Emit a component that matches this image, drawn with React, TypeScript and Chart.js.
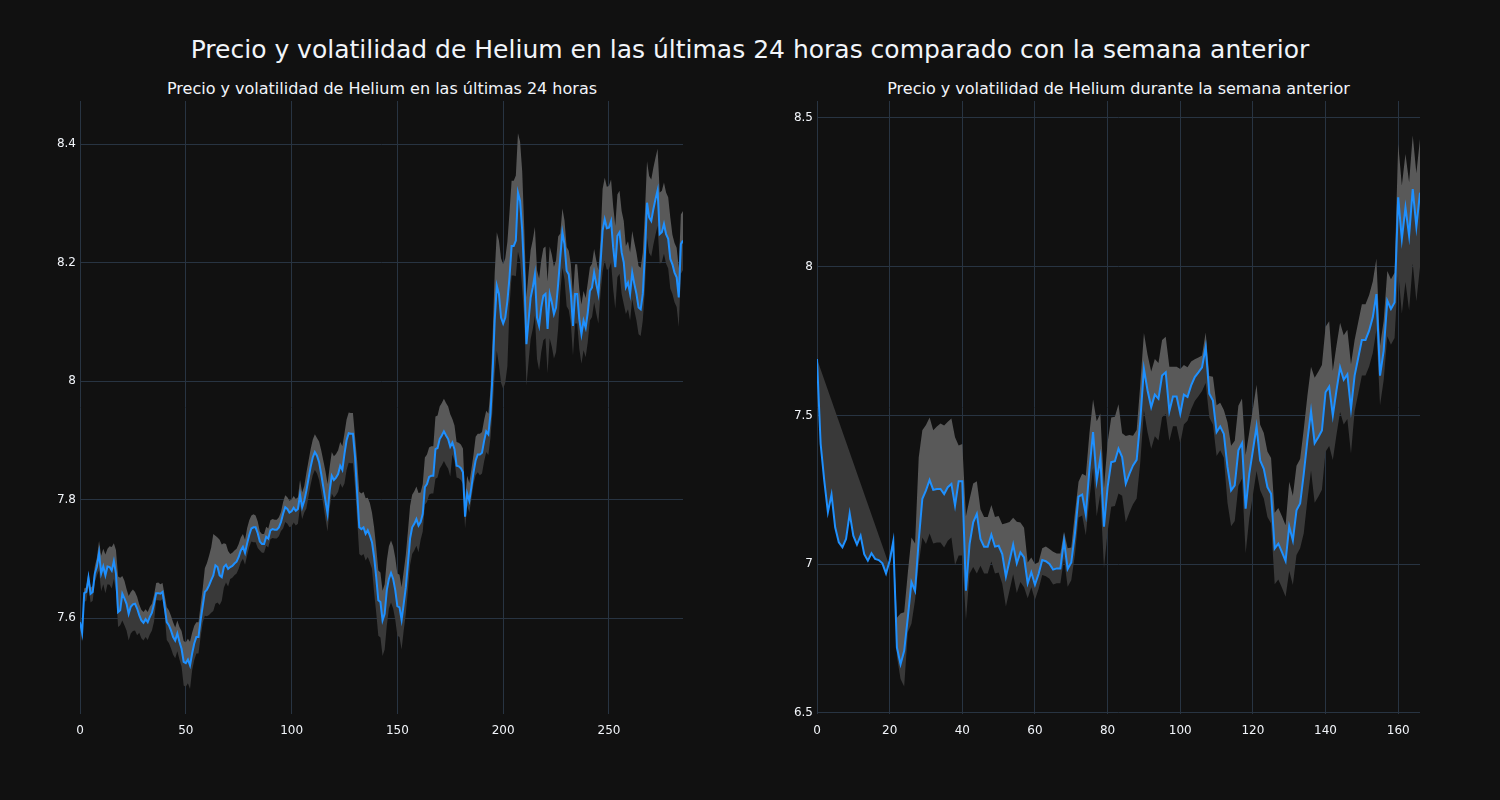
import React, { useEffect, useRef } from "react";
import { Chart, registerables } from "chart.js";

Chart.register(...registerables);

const mainTitle = "Precio y volatilidad de Helium en las últimas 24 horas comparado con la semana anterior";
const leftTitle = "Precio y volatilidad de Helium en las últimas 24 horas";
const rightTitle = "Precio y volatilidad de Helium durante la semana anterior";

// Last 24 hours (5-minute steps)
const leftPrice = [
  7.593, 7.575, 7.642, 7.644, 7.668, 7.641, 7.644, 7.675, 7.687, 7.71,
  7.675, 7.687, 7.672, 7.687, 7.686, 7.68, 7.696, 7.675, 7.61, 7.613,
  7.641, 7.633, 7.624, 7.607, 7.619, 7.623, 7.624, 7.616, 7.605, 7.596,
  7.592, 7.598, 7.593, 7.602, 7.609, 7.624, 7.642, 7.642, 7.641, 7.644,
  7.619, 7.593, 7.588, 7.579, 7.568, 7.562, 7.574, 7.56, 7.548, 7.526,
  7.524, 7.53, 7.52, 7.54, 7.557, 7.568, 7.568, 7.596, 7.62, 7.644,
  7.648, 7.655, 7.664, 7.672, 7.689, 7.686, 7.672, 7.669, 7.686, 7.69,
  7.683, 7.686, 7.688, 7.692, 7.695, 7.703, 7.714, 7.72, 7.71, 7.726,
  7.74, 7.751, 7.753, 7.753, 7.743, 7.729, 7.725, 7.725, 7.737, 7.734,
  7.748, 7.75, 7.749, 7.749, 7.753, 7.762, 7.776, 7.787, 7.784, 7.778,
  7.78, 7.786, 7.781, 7.784, 7.808, 7.787, 7.798, 7.815, 7.835, 7.855,
  7.871, 7.88, 7.874, 7.863, 7.843, 7.821, 7.798, 7.776, 7.815, 7.84,
  7.833, 7.837, 7.843, 7.857, 7.85, 7.877, 7.9, 7.912, 7.911, 7.911,
  7.871, 7.81, 7.753, 7.75, 7.753, 7.742, 7.748, 7.739, 7.728, 7.703,
  7.669, 7.63, 7.627, 7.596, 7.607, 7.647, 7.666, 7.676, 7.666, 7.647,
  7.62, 7.618, 7.597, 7.624, 7.652, 7.692, 7.734, 7.753, 7.759, 7.767,
  7.756, 7.762, 7.776, 7.821, 7.826, 7.838, 7.84, 7.84, 7.885, 7.887,
  7.902, 7.908, 7.915, 7.908, 7.902, 7.889, 7.896, 7.885, 7.857, 7.856,
  7.853, 7.846, 7.771, 7.81, 7.798, 7.821, 7.846, 7.866, 7.876, 7.876,
  7.879, 7.899, 7.915, 7.91, 7.944, 8.012, 8.102, 8.161, 8.147, 8.107,
  8.097, 8.107, 8.135, 8.175, 8.228, 8.228, 8.237, 8.318, 8.304, 8.254,
  8.175, 8.062, 8.102, 8.141, 8.158, 8.18, 8.107, 8.093, 8.124, 8.144,
  8.147, 8.088, 8.147, 8.133, 8.113, 8.124, 8.164, 8.209, 8.251, 8.231,
  8.186, 8.18, 8.147, 8.093, 8.147, 8.147, 8.104, 8.079, 8.102, 8.09,
  8.116, 8.152, 8.158, 8.183, 8.164, 8.147, 8.197, 8.254, 8.273, 8.258,
  8.259, 8.27, 8.225, 8.192, 8.245, 8.251, 8.217, 8.2, 8.158, 8.166,
  8.147, 8.183, 8.164, 8.147, 8.124, 8.121, 8.147, 8.214, 8.301, 8.276,
  8.27, 8.29, 8.307, 8.322, 8.248, 8.251, 8.265, 8.248, 8.24, 8.206,
  8.197, 8.183, 8.175, 8.141, 8.231, 8.237,
];

// Volatility band width above / below the price (24 h)
const leftVolUp = [
  0.005, 0.005, 0.008, 0.008, 0.01, 0.01, 0.01, 0.012, 0.015, 0.02,
  0.03, 0.03, 0.035, 0.03, 0.035, 0.04, 0.03, 0.04, 0.06, 0.055,
  0.03, 0.03, 0.025, 0.03, 0.025, 0.025, 0.02, 0.02, 0.018, 0.018,
  0.018, 0.017, 0.017, 0.017, 0.015, 0.015, 0.017, 0.018, 0.016, 0.015,
  0.02, 0.025, 0.025, 0.025, 0.025, 0.022, 0.022, 0.025, 0.03, 0.035,
  0.035, 0.035, 0.04, 0.035, 0.03, 0.025, 0.025, 0.025, 0.03, 0.04,
  0.045, 0.05, 0.055, 0.07, 0.05, 0.05, 0.06, 0.055, 0.04, 0.035,
  0.03, 0.022, 0.022, 0.022, 0.022, 0.022, 0.022, 0.022, 0.022, 0.026,
  0.025, 0.022, 0.022, 0.02, 0.02, 0.017, 0.017, 0.017, 0.017, 0.017,
  0.017, 0.017, 0.017, 0.017, 0.017, 0.017, 0.02, 0.02, 0.02, 0.02,
  0.02, 0.02, 0.02, 0.02, 0.025, 0.025, 0.025, 0.03, 0.03, 0.03,
  0.03, 0.03, 0.03, 0.035, 0.04, 0.045, 0.05, 0.05, 0.04, 0.04,
  0.04, 0.04, 0.04, 0.04, 0.04, 0.035, 0.035, 0.035, 0.035, 0.035,
  0.035, 0.055, 0.06, 0.06, 0.06, 0.06, 0.055, 0.055, 0.05, 0.05,
  0.05, 0.05, 0.05, 0.05, 0.05, 0.05, 0.055, 0.055, 0.055, 0.055,
  0.055, 0.055, 0.055, 0.055, 0.055, 0.055, 0.055, 0.055, 0.055, 0.055,
  0.055, 0.05, 0.05, 0.05, 0.05, 0.05, 0.05, 0.05, 0.055, 0.055,
  0.055, 0.055, 0.055, 0.055, 0.055, 0.055, 0.04, 0.04, 0.04, 0.04,
  0.04, 0.04, 0.03, 0.03, 0.03, 0.03, 0.03, 0.04, 0.035, 0.035,
  0.035, 0.035, 0.035, 0.035, 0.04, 0.06, 0.08, 0.09, 0.09, 0.1,
  0.1, 0.1, 0.1, 0.11, 0.11, 0.11, 0.11, 0.1, 0.1, 0.1,
  0.08, 0.08, 0.08, 0.08, 0.08, 0.08, 0.08, 0.08, 0.08, 0.08,
  0.08, 0.08, 0.08, 0.08, 0.08, 0.08, 0.08, 0.04, 0.04, 0.04,
  0.04, 0.04, 0.05, 0.05, 0.05, 0.05, 0.05, 0.05, 0.05, 0.05,
  0.05, 0.04, 0.04, 0.04, 0.04, 0.04, 0.04, 0.07, 0.07, 0.07,
  0.07, 0.07, 0.07, 0.07, 0.07, 0.07, 0.07, 0.07, 0.07, 0.07,
  0.07, 0.07, 0.07, 0.07, 0.07, 0.07, 0.07, 0.07, 0.07, 0.07,
  0.07, 0.07, 0.07, 0.07, 0.07, 0.07, 0.07, 0.07, 0.07, 0.07,
  0.05, 0.05, 0.05, 0.05, 0.05, 0.05,
];

const leftVolDown = [
  0.015, 0.015, 0.015, 0.015, 0.015, 0.015, 0.015, 0.015, 0.015, 0.03,
  0.03, 0.03, 0.03, 0.03, 0.03, 0.03, 0.03, 0.03, 0.025, 0.025,
  0.045, 0.045, 0.045, 0.045, 0.045, 0.045, 0.045, 0.045, 0.03, 0.03,
  0.03, 0.03, 0.03, 0.03, 0.03, 0.03, 0.012, 0.012, 0.012, 0.012,
  0.012, 0.03, 0.03, 0.03, 0.03, 0.03, 0.03, 0.03, 0.03, 0.04,
  0.04, 0.04, 0.04, 0.028, 0.028, 0.028, 0.028, 0.028, 0.028, 0.04,
  0.045, 0.05, 0.055, 0.06, 0.065, 0.06, 0.05, 0.04, 0.035, 0.03,
  0.03, 0.02, 0.02, 0.02, 0.02, 0.02, 0.02, 0.02, 0.02, 0.02,
  0.02, 0.022, 0.025, 0.025, 0.025, 0.015, 0.015, 0.015, 0.015, 0.015,
  0.015, 0.015, 0.015, 0.015, 0.015, 0.015, 0.025, 0.025, 0.025, 0.025,
  0.025, 0.025, 0.025, 0.025, 0.02, 0.02, 0.02, 0.03, 0.03, 0.03,
  0.03, 0.03, 0.03, 0.03, 0.03, 0.03, 0.03, 0.03, 0.03, 0.03,
  0.03, 0.03, 0.03, 0.03, 0.03, 0.05, 0.05, 0.05, 0.05, 0.05,
  0.05, 0.045, 0.045, 0.045, 0.045, 0.045, 0.045, 0.045, 0.045, 0.06,
  0.06, 0.06, 0.06, 0.06, 0.06, 0.06, 0.05, 0.05, 0.05, 0.05,
  0.05, 0.05, 0.05, 0.045, 0.045, 0.045, 0.045, 0.045, 0.045, 0.045,
  0.045, 0.03, 0.03, 0.03, 0.03, 0.03, 0.03, 0.03, 0.05, 0.05,
  0.05, 0.05, 0.05, 0.05, 0.05, 0.05, 0.02, 0.02, 0.02, 0.02,
  0.02, 0.02, 0.02, 0.02, 0.02, 0.02, 0.02, 0.025, 0.03, 0.035,
  0.035, 0.035, 0.035, 0.035, 0.04, 0.06, 0.09, 0.11, 0.12, 0.11,
  0.11, 0.11, 0.11, 0.05, 0.05, 0.05, 0.06, 0.1, 0.1, 0.1,
  0.07, 0.07, 0.07, 0.07, 0.07, 0.07, 0.07, 0.075, 0.075, 0.075,
  0.075, 0.075, 0.075, 0.075, 0.075, 0.075, 0.075, 0.06, 0.06, 0.06,
  0.06, 0.06, 0.05, 0.05, 0.05, 0.05, 0.05, 0.05, 0.05, 0.05,
  0.05, 0.05, 0.05, 0.05, 0.05, 0.05, 0.05, 0.07, 0.07, 0.07,
  0.07, 0.07, 0.07, 0.07, 0.07, 0.07, 0.07, 0.07, 0.045, 0.045,
  0.045, 0.045, 0.045, 0.045, 0.045, 0.045, 0.045, 0.06, 0.06, 0.06,
  0.06, 0.06, 0.06, 0.06, 0.05, 0.05, 0.05, 0.05, 0.05, 0.05,
  0.05, 0.05, 0.05, 0.05, 0.05, 0.05,
];

// Previous week (hourly steps)
const rightPrice = [
  7.69, 7.405, 7.281, 7.175, 7.234, 7.124, 7.074, 7.057, 7.085, 7.171,
  7.096, 7.066, 7.096, 7.034, 7.012, 7.037, 7.018, 7.014, 7.003, 6.969,
  7.012, 7.077, 6.72, 6.664, 6.709, 6.821, 6.94, 6.91, 7.079, 7.22,
  7.248, 7.283, 7.25, 7.253, 7.253, 7.236, 7.259, 7.27, 7.197, 7.279,
  7.279, 6.911, 7.068, 7.141, 7.169, 7.085, 7.059, 7.059, 7.099, 7.059,
  7.062, 7.034, 6.958, 7.012, 7.066, 7.003, 7.04, 7.023, 6.936, 6.973,
  6.931, 6.967, 7.014, 7.01, 7.001, 6.982, 6.986, 6.986, 7.079, 6.984,
  7.006, 7.102, 7.227, 7.234, 7.167, 7.32, 7.444, 7.281, 7.357, 7.126,
  7.259, 7.343, 7.346, 7.388, 7.36, 7.271, 7.304, 7.332, 7.351, 7.483,
  7.657, 7.584, 7.528, 7.57, 7.556, 7.634, 7.645, 7.514, 7.564, 7.564,
  7.506, 7.57, 7.562, 7.601, 7.629, 7.645, 7.662, 7.729, 7.573, 7.55,
  7.444, 7.463, 7.438, 7.327, 7.248, 7.265, 7.383, 7.407, 7.187, 7.304,
  7.383, 7.463, 7.349, 7.321, 7.259, 7.237, 7.053, 7.069, 7.041, 7.011,
  7.127, 7.08, 7.181, 7.204, 7.304, 7.416, 7.514, 7.407, 7.427, 7.45,
  7.578, 7.597, 7.5, 7.584, 7.662, 7.62, 7.638, 7.522, 7.634, 7.694,
  7.754, 7.754, 7.785, 7.83, 7.908, 7.634, 7.718, 7.886, 7.858, 7.88,
  8.233, 8.093, 8.199, 8.104, 8.261, 8.134, 8.249,
];

const rightVolUp = [
  null, null, null, null, null, null, null, null, null, null,
  null, null, null, null, null, null, null, null, null, null,
  0.01, 0.01, 0.1, 0.17, 0.13, 0.15, 0.15, 0.16, 0.28, 0.23,
  0.22, 0.21, 0.2, 0.21, 0.22, 0.23, 0.22, 0.22, 0.23, 0.12,
  0.125, 0.25, 0.15, 0.13, 0.11, 0.1, 0.1, 0.1, 0.1, 0.1,
  0.1, 0.1, 0.18, 0.13, 0.09, 0.14, 0.1, 0.1, 0.07, 0.05,
  0.07, 0.04, 0.04, 0.05, 0.05, 0.06, 0.05, 0.05, 0.03, 0.07,
  0.05, 0.07, 0.05, 0.07, 0.13, 0.12, 0.11, 0.2, 0.15, 0.13,
  0.15, 0.15, 0.15, 0.15, 0.08, 0.16, 0.13, 0.1, 0.1, 0.12,
  0.12, 0.12, 0.12, 0.12, 0.12, 0.12, 0.12, 0.15, 0.1, 0.1,
  0.15, 0.1, 0.1, 0.08, 0.06, 0.05, 0.04, 0.05, 0.06, 0.08,
  0.09, 0.08, 0.08, 0.15, 0.15, 0.15, 0.15, 0.15, 0.18, 0.14,
  0.14, 0.14, 0.12, 0.12, 0.12, 0.12, 0.12, 0.12, 0.12, 0.12,
  0.15, 0.15, 0.15, 0.15, 0.15, 0.15, 0.15, 0.22, 0.22, 0.22,
  0.22, 0.22, 0.15, 0.15, 0.15, 0.15, 0.15, 0.15, 0.12, 0.12,
  0.12, 0.12, 0.12, 0.12, 0.12, 0.1, 0.1, 0.1, 0.1, 0.1,
  0.18, 0.18, 0.18, 0.18, 0.18, 0.18, 0.18,
];

const rightVolDown = [
  0, null, null, null, null, null, null, null, null, null,
  null, null, null, null, null, null, null, null, null, null,
  0.02, 0.02, 0.03, 0.05, 0.12, 0.05, 0.14, 0.03, 0.08, 0.13,
  0.18, 0.18, 0.18, 0.18, 0.18, 0.18, 0.18, 0.18, 0.2, 0.25,
  0.25, 0.1, 0.1, 0.15, 0.2, 0.09, 0.09, 0.09, 0.09, 0.09,
  0.09, 0.1, 0.1, 0.1, 0.1, 0.1, 0.1, 0.1, 0.05, 0.05,
  0.05, 0.05, 0.05, 0.05, 0.05, 0.05, 0.05, 0.05, 0.06, 0.06,
  0.06, 0.07, 0.07, 0.07, 0.07, 0.1, 0.12, 0.12, 0.12, 0.14,
  0.15, 0.15, 0.15, 0.15, 0.13, 0.13, 0.13, 0.13, 0.13, 0.14,
  0.14, 0.14, 0.14, 0.14, 0.14, 0.14, 0.14, 0.1, 0.1, 0.1,
  0.1, 0.1, 0.08, 0.08, 0.08, 0.08, 0.08, 0.12, 0.08, 0.08,
  0.08, 0.08, 0.08, 0.12, 0.12, 0.12, 0.12, 0.12, 0.15, 0.15,
  0.15, 0.15, 0.1, 0.1, 0.1, 0.1, 0.12, 0.12, 0.12, 0.12,
  0.15, 0.15, 0.15, 0.15, 0.2, 0.2, 0.2, 0.2, 0.2, 0.2,
  0.2, 0.2, 0.15, 0.15, 0.15, 0.15, 0.15, 0.15, 0.12, 0.12,
  0.12, 0.12, 0.12, 0.12, 0.12, 0.1, 0.1, 0.12, 0.12, 0.12,
  0.25, 0.25, 0.25, 0.25, 0.25, 0.25, 0.25,
];

const leftXTicks = [0, 50, 100, 150, 200, 250];
const leftYTicks = [7.6, 7.8, 8, 8.2, 8.4];
const rightXTicks = [0, 20, 40, 60, 80, 100, 120, 140, 160];
const rightYTicks = [6.5, 7, 7.5, 8, 8.5];

const FONT = "DejaVu Sans";
const TEXT = "#f2f5fa";
const GRID = "#283442";

type PanelProps = {
  price: number[];
  volUp: (number | null)[];
  volDown: (number | null)[];
  xMax: number;
  yMin: number;
  yMax: number;
  xTicks: number[];
  yTicks: number[];
  left: number;
};

function Panel({ price, volUp, volDown, xMax, yMin, yMax, xTicks, yTicks, left }: PanelProps) {
  const ref = useRef<HTMLCanvasElement | null>(null);
  useEffect(() => {
    if (!ref.current) return;
    const line = price.map((y, i) => ({ x: i, y }));
    const upper = price.map((y, i) => ({ x: i, y: volUp[i] == null ? null : y + (volUp[i] as number) }));
    const lower = price.map((y, i) => ({ x: i, y: volDown[i] == null ? null : y - (volDown[i] as number) }));
    const chart = new Chart(ref.current, {
      type: "line",
      data: {
        datasets: [
          {
            data: line as any,
            borderColor: "#1e90ff",
            borderWidth: 2,
            pointRadius: 0,
            tension: 0,
            fill: false,
          },
          {
            data: upper as any,
            borderColor: "rgba(0,0,0,0)",
            borderWidth: 0,
            pointRadius: 0,
            tension: 0,
            fill: 0,
            backgroundColor: "#595959",
            spanGaps: false,
          },
          {
            data: lower as any,
            borderColor: "rgba(0,0,0,0)",
            borderWidth: 0,
            pointRadius: 0,
            tension: 0,
            fill: 0,
            backgroundColor: "#393939",
            spanGaps: true,
          },
        ],
      },
      options: {
        animation: false,
        responsive: false,
        maintainAspectRatio: false,
        layout: { padding: { top: 5, right: 17, left: 0, bottom: 0 } },
        plugins: { legend: { display: false }, tooltip: { enabled: false } },
        scales: {
          x: {
            type: "linear",
            min: 0,
            max: xMax,
            grid: { color: GRID, drawTicks: false, lineWidth: 1 },
            border: { display: false },
            ticks: {
              color: TEXT,
              font: { family: FONT, size: 12 },
              padding: 10,
              maxRotation: 0,
              autoSkip: false,
              callback: (v: any) => String(v),
            },
            afterBuildTicks: (s: any) => {
              s.ticks = xTicks.map((v) => ({ value: v }));
            },
            afterFit: (s: any) => {
              s.height = 27;
              s.paddingLeft = 0;
              s.paddingRight = 0;
            },
          },
          y: {
            type: "linear",
            min: yMin,
            max: yMax,
            grid: { color: GRID, drawTicks: false, lineWidth: 1 },
            border: { display: false },
            ticks: {
              color: TEXT,
              font: { family: FONT, size: 12 },
              padding: 4,
              autoSkip: false,
              callback: (v: any) => String(v),
            },
            afterBuildTicks: (s: any) => {
              s.ticks = yTicks.map((v) => ({ value: v }));
            },
            afterFit: (s: any) => {
              s.width = 80;
              s.paddingTop = 0;
              s.paddingBottom = 0;
            },
          },
        },
      },
    });
    return () => chart.destroy();
  }, []);
  return (
    <canvas
      ref={ref}
      width={700}
      height={645}
      style={{ position: "absolute", left, top: 96, width: 700, height: 645 }}
    />
  );
}

export default function App() {
  return (
    <div
      style={{
        position: "absolute",
        left: 0,
        top: 0,
        width: 1500,
        height: 800,
        background: "#111111",
        overflow: "hidden",
        fontFamily: FONT,
        color: TEXT,
      }}
    >
      <div
        style={{
          position: "absolute",
          left: 0,
          top: 35,
          width: 1500,
          textAlign: "center",
          fontSize: 25,
          lineHeight: "30px",
          whiteSpace: "nowrap",
        }}
      >
        {mainTitle}
      </div>
      <div
        style={{
          position: "absolute",
          left: 81,
          top: 79,
          width: 602,
          textAlign: "center",
          fontSize: 16,
          lineHeight: "20px",
          whiteSpace: "nowrap",
        }}
      >
        {leftTitle}
      </div>
      <div
        style={{
          position: "absolute",
          left: 817,
          top: 79,
          width: 603,
          textAlign: "center",
          fontSize: 16,
          lineHeight: "20px",
          whiteSpace: "nowrap",
        }}
      >
        {rightTitle}
      </div>
      <Panel
        price={leftPrice}
        volUp={leftVolUp}
        volDown={leftVolDown}
        xMax={285}
        yMin={7.438}
        yMax={8.4726}
        xTicks={leftXTicks}
        yTicks={leftYTicks}
        left={0}
      />
      <Panel
        price={rightPrice}
        volUp={rightVolUp}
        volDown={rightVolDown}
        xMax={166}
        yMin={6.4966}
        yMax={8.557}
        xTicks={rightXTicks}
        yTicks={rightYTicks}
        left={737}
      />
    </div>
  );
}
